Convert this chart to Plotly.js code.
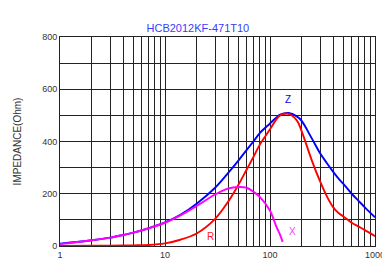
<!DOCTYPE html>
<html>
<head>
<meta charset="utf-8">
<script src="https://cdn.plot.ly/plotly-3.0.1.min.js"></script>
<style>html,body{margin:0;padding:0;background:#fff;}#chart{width:382px;height:272px;}</style>
</head>
<body>
<div id="chart"></div>
<script>
const freq = [1,2,3,4,5,7,10,14,20,30,40,50,60,70,80,100,115,125,150,180,200,250,300,350,400,450,500,600,700,800,1000];
const zVals = [9,22,32,42,51,68,90,119,162,223,280,327,368,402,432,469,492,503,509,496,479,412,355,316,284,258,238,200,172,148,110];
const rVals = [0.5,1,1.5,2,2.5,4,10,24,48,104,170,234,293,343,388,447,485,500,506,481,440,328,247,188,148,126,113,89,74,61,38];
const xFreq = [1,2,3,4,5,7,10,14,20,30,40,50,60,70,80,100,115,125,132];
const xVals = [7,22,32,42,51,68,89,117,153,197,220,226,223,207,188,135,74,42,16];

const xGrid = [];
for (const d of [1,10,100]) for (let k=1;k<10;k++) xGrid.push(d*k);
xGrid.push(1000);
const xGridText = xGrid.map(v => [1,10,100,1000].includes(v) ? String(v) : '');
const yGrid = [0,100,200,300,400,500,600,700,800];
const yGridText = yGrid.map(v => v % 200 === 0 ? String(v) : '');

const lw = 1.9;
const traces = [
  {x: freq, y: zVals, mode: 'lines', line: {color: '#0000ff', width: lw, shape: 'spline', smoothing: 1}, name: 'Z'},
  {x: freq, y: rVals, mode: 'lines', line: {color: '#ff0000', width: lw, shape: 'spline', smoothing: 1}, name: 'R'},
  {x: xFreq, y: xVals, mode: 'lines', line: {color: '#ff00ff', width: lw, shape: 'spline', smoothing: 1}, name: 'X'}
];

const layout = {
  width: 382, height: 272,
  margin: {l: 60, r: 7, t: 37, b: 26},
  paper_bgcolor: '#fff', plot_bgcolor: '#fff',
  showlegend: false,
  font: {family: 'Liberation Sans, Arial, sans-serif', size: 9, color: '#333'},
  title: {text: 'HCB2012KF-471T10', font: {size: 11, color: '#3b3bff'}, x: 0.518, xanchor: 'center', y: 0.895, yanchor: 'middle'},
  xaxis: {
    type: 'log', range: [0, 3], tickvals: xGrid, ticktext: xGridText,
    ticklabeloverflow: 'allow',
    showgrid: true, gridcolor: '#222', gridwidth: 1,
    showline: true, linecolor: '#222', linewidth: 1, mirror: true,
    ticks: '', zeroline: false, tickfont: {size: 9, color: '#333'}
  },
  yaxis: {
    range: [0, 800], tickvals: yGrid, ticktext: yGridText,
    showgrid: true, gridcolor: '#222', gridwidth: 1,
    showline: true, linecolor: '#222', linewidth: 1, mirror: true,
    ticks: '', zeroline: false, tickfont: {size: 9, color: '#333'},
    title: {text: 'IMPEDANCE(Ohm)', font: {size: 10, color: '#333'}, standoff: 18}
  },
  annotations: [
    {x: Math.log10(150), y: 560, text: 'Z', showarrow: false, font: {size: 10, color: '#0000ff'}},
    {x: Math.log10(27), y: 35, text: 'R', showarrow: false, font: {size: 10, color: '#ff2020'}},
    {x: Math.log10(162), y: 55, text: 'X', showarrow: false, font: {size: 10, color: '#ff40ff'}}
  ]
};

Plotly.newPlot('chart', traces, layout, {displayModeBar: false, staticPlot: true});
</script>
</body>
</html>
